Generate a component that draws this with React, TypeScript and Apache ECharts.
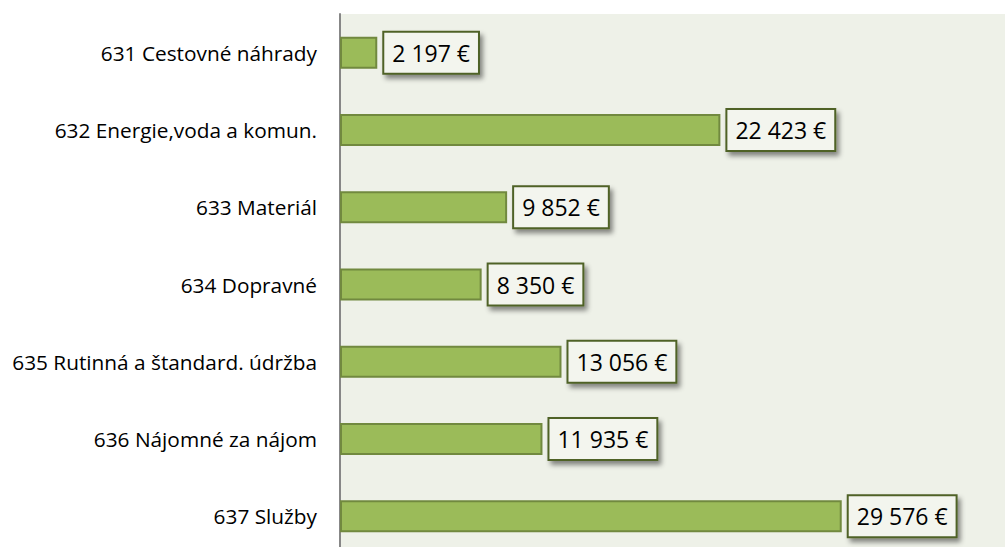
import React, { useEffect, useRef } from "react";
import * as echarts from "echarts";

const categories = [
  "631 Cestovné náhrady",
  "632 Energie,voda a komun.",
  "633 Materiál",
  "634 Dopravné",
  "635 Rutinná a štandard. údržba",
  "636 Nájomné za nájom",
  "637 Služby",
];
const values = [2197, 22423, 9852, 8350, 13056, 11935, 29576];

const fmt = (v: number) => {
  const s = String(v);
  return s.replace(/\B(?=(\d{3})+(?!\d))/g, " ") + " €";
};

export default function App() {
  const ref = useRef<HTMLDivElement>(null);
  useEffect(() => {
    if (!ref.current) return;
    const chart = echarts.init(ref.current, null, { renderer: "svg" });
    chart.setOption({
      animation: false,
      backgroundColor: "#ffffff",
      grid: {
        left: 340,
        right: 0,
        top: 14,
        bottom: 0,
        show: true,
        backgroundColor: "#EEF1E8",
        borderWidth: 0,
      },
      xAxis: {
        type: "value",
        min: 0,
        max: 39200,
        show: false,
      },
      yAxis: {
        type: "category",
        data: categories,
        inverse: true,
        axisLine: { show: true, lineStyle: { color: "#878787", width: 2 } },
        axisTick: { show: false },
        axisLabel: {
          margin: 23,
          color: "#000000",
          fontFamily: "Open Sans",
          fontSize: 20.8,
        },
      },
      series: [
        {
          type: "bar",
          data: values,
          barWidth: 32,
          itemStyle: {
            color: "#9BBB59",
            borderColor: "#71893F",
            borderWidth: 2,
          },
          label: {
            show: true,
            position: "right",
            distance: 7,
            formatter: (p: any) => fmt(p.value),
            color: "#000000",
            fontFamily: "Open Sans",
            fontSize: 23,
            lineHeight: 29,
            backgroundColor: "#F3F5EE",
            borderColor: "#4F6228",
            borderWidth: 2,
            padding: [6, 8, 5, 8],
            shadowColor: "rgba(0,0,0,0.45)",
            shadowBlur: 5,
            shadowOffsetX: 3,
            shadowOffsetY: 4,
          },
        },
      ],
    });
    return () => chart.dispose();
  }, []);
  return (
    <div
      ref={ref}
      style={{ position: "fixed", left: 0, top: 0, width: 1005, height: 555 }}
    />
  );
}
